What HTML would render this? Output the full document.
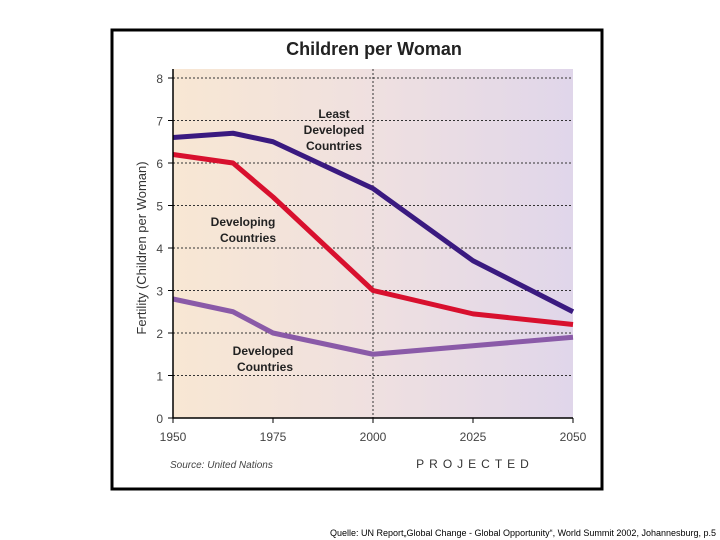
<!DOCTYPE html>
<html><head><meta charset="utf-8"><style>
body{margin:0;background:#fff;width:720px;height:540px;overflow:hidden;font-family:"Liberation Sans",sans-serif}
svg{display:block}
</style></head><body>
<svg width="720" height="540">
<defs>
<linearGradient id="bg" x1="0" x2="1" y1="0" y2="0">
<stop offset="0" stop-color="#f8e7d3"/><stop offset="0.5" stop-color="#efe0e0"/><stop offset="1" stop-color="#e0d6ea"/>
</linearGradient>
</defs>
<rect x="112" y="30" width="490" height="459" fill="#fff" stroke="#000" stroke-width="3"/>
<text x="374" y="55" text-anchor="middle" font-size="18" font-weight="bold" fill="#222">Children per Woman</text>
<rect x="173" y="69" width="400" height="349" fill="url(#bg)"/>
<g id="grid"></g>
<g id="lines"></g>
<g id="axes"></g>
<text transform="translate(146,248) rotate(-90)" text-anchor="middle" font-size="13" fill="#333">Fertility (Children per Woman)</text>
<text x="334" y="118" text-anchor="middle" font-size="12" font-weight="bold" fill="#222"><tspan x="334">Least</tspan><tspan x="334" dy="16">Developed</tspan><tspan x="334" dy="16">Countries</tspan></text>
<text x="243" y="226" text-anchor="middle" font-size="12" font-weight="bold" fill="#222"><tspan x="243">Developing</tspan><tspan x="248" dy="16">Countries</tspan></text>
<text x="263" y="355" text-anchor="middle" font-size="12" font-weight="bold" fill="#222"><tspan x="263">Developed</tspan><tspan x="265" dy="16">Countries</tspan></text>
<text x="170" y="468" font-size="10" font-style="italic" fill="#444">Source: United Nations</text>
<text x="475" y="468" text-anchor="middle" font-size="12" letter-spacing="5" fill="#333">PROJECTED</text>
<text x="716" y="536" text-anchor="end" font-size="9" fill="#000">Quelle: UN Report„Global Change - Global Opportunity“, World Summit 2002, Johannesburg,  p.5</text>
</svg>
<script>
const years=[1950,1965,1975,2000,2025,2050];
const leastDeveloped=[6.6,6.7,6.5,5.4,3.7,2.5];
const developing=[6.2,6.0,5.2,3.0,2.45,2.2];
const developed=[2.8,2.5,2.0,1.5,1.7,1.9];
const yTicks=[0,1,2,3,4,5,6,7,8];
const xTicks=[1950,1975,2000,2025,2050];
const NS="http://www.w3.org/2000/svg";
const X=y=>173+(y-1950)*4;
const Y=v=>418-v*42.5;
function mk(t,a,p){const e=document.createElementNS(NS,t);for(const k in a)e.setAttribute(k,a[k]);p.appendChild(e);return e;}
const grid=document.getElementById('grid'),axes=document.getElementById('axes'),lines=document.getElementById('lines');
yTicks.forEach(v=>{
 if(v>0){const g=mk('line',{x1:173,x2:573,y1:Y(v),y2:Y(v),stroke:'#333','stroke-width':1,'stroke-dasharray':'2,2'},grid);
 
 }
 const tk=mk('line',{x1:168,x2:173,y1:Y(v),y2:Y(v),stroke:'#000'},axes);
 
 
 const t=mk('text',{x:163,y:Y(v)+5,'text-anchor':'end','font-size':12,fill:'#444'},axes);t.textContent=v;
 
 
});
const vg=mk('line',{x1:X(2000),x2:X(2000),y1:69,y2:418,stroke:'#333','stroke-dasharray':'2,2'},grid);


xTicks.forEach(v=>{
 const tk=mk('line',{x1:X(v),x2:X(v),y1:418,y2:423,stroke:'#000'},axes);
 
 
 const t=mk('text',{x:X(v),y:441,'text-anchor':'middle','font-size':12,fill:'#444'},axes);t.textContent=v;
 
 
});
const ax=mk('path',{d:'M173,69V418H573',fill:'none',stroke:'#000','stroke-width':1.5},axes);


[[leastDeveloped,'#3a1a80','line-least-developed'],[developing,'#d8102e','line-developing'],[developed,'#8a5aa8','line-developed']].forEach(([d,c,n])=>{
 const p=mk('polyline',{points:years.map((y,i)=>X(y)+','+Y(d[i])).join(' '),fill:'none',stroke:c,'stroke-width':5,'stroke-linejoin':'round'},lines);
 
 
});
</script>
</body></html>
